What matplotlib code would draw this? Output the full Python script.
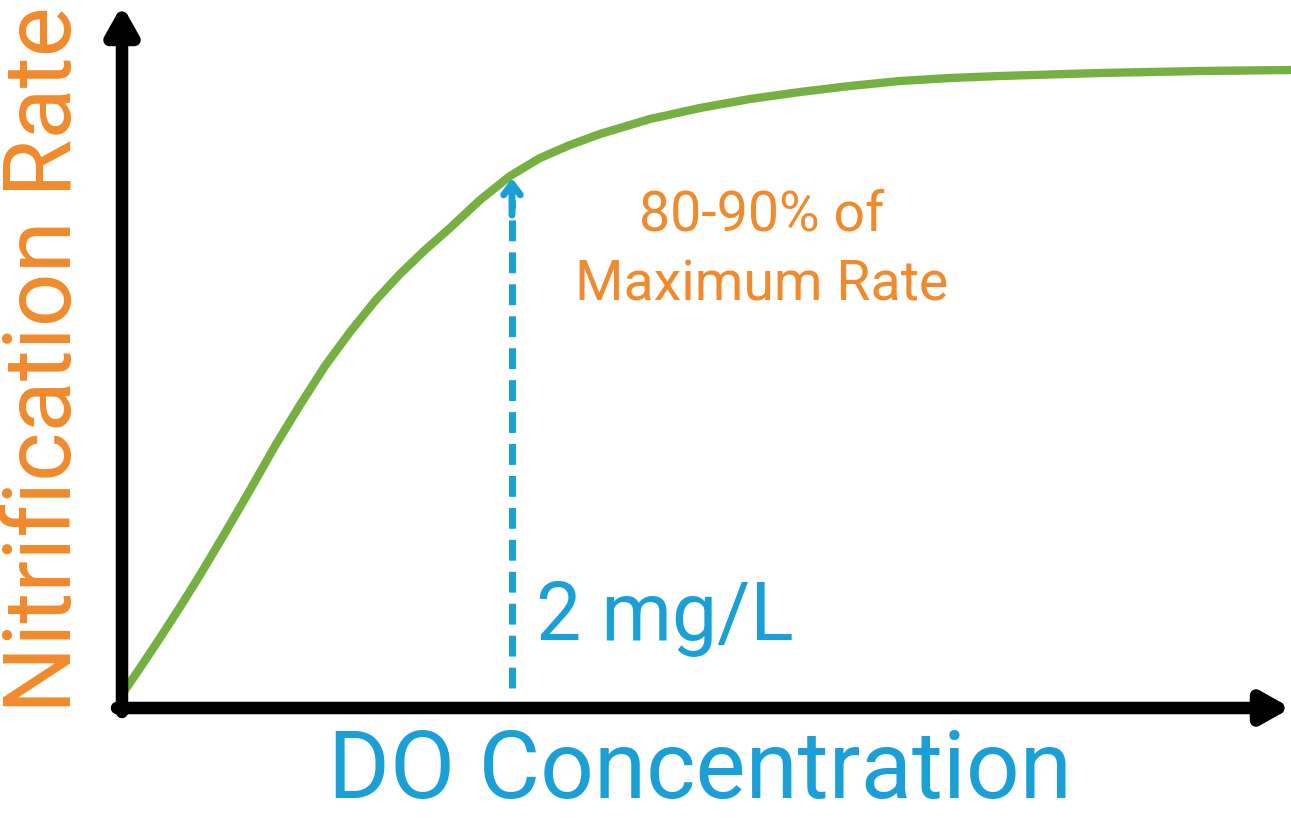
import matplotlib
matplotlib.use("Agg")
import matplotlib.pyplot as plt

# curve (pixel coords)
curve_x = [125,140,160,180,200,225,250,275,300,325,350,375,400,425,450,480,510,540,570,600,650,700,750,800,850,900,950,1000,1100,1200,1291]
curve_y = [690,668,638,607,575,533,490,446,405,366,332,301,274,250,228,200,176,158,145,134,119,108,99,92,86,81,78,76,73,71,70]
marker_x = 512
y_label = "Nitrification Rate"
x_label = "DO Concentration"
marker_label = "2 mg/L"
note = "80-90% of\nMaximum Rate"

orange = "#f08a2c"; blue = "#1aa0d6"; green = "#76b043"
plt.rcParams['font.family'] = ['Roboto', 'DejaVu Sans']
fig = plt.figure(figsize=(12.91, 8.18), dpi=100)
ax = fig.add_axes([0, 0, 1, 1])
ax.set_xlim(0, 1291); ax.set_ylim(818, 0); ax.axis('off')

ax.annotate('', xy=(122, 5), xytext=(122, 712),
            arrowprops=dict(arrowstyle='-|>,head_width=0.9,head_length=1.6', lw=9, color='black', shrinkA=0, shrinkB=0))
ax.annotate('', xy=(1291, 708), xytext=(117, 708),
            arrowprops=dict(arrowstyle='-|>,head_width=0.9,head_length=1.6', lw=9, color='black', shrinkA=0, shrinkB=0))
ax.plot(curve_x, curve_y, color=green, lw=6, solid_capstyle='round', solid_joinstyle='round')
ax.plot([marker_x, marker_x], [688, 200], color=blue, lw=5, ls=(0, (3, 1.6)))
ax.annotate('', xy=(marker_x, 178), xytext=(marker_x, 215),
            arrowprops=dict(arrowstyle='->,head_width=0.6,head_length=0.8', lw=5, color=blue, shrinkA=0, shrinkB=0))
ax.text(536, 618, marker_label, color=blue, fontsize=58, va='center', ha='left')
ax.text(700, 772, x_label, color=blue, fontsize=68, va='center', ha='center')
ax.text(45, 360, y_label, color=orange, fontsize=68, va='center', ha='center', rotation=90)
ax.text(762, 250, note, color=orange, fontsize=40, va='center', ha='center', linespacing=1.4)
fig.savefig("out.png", dpi=100)
